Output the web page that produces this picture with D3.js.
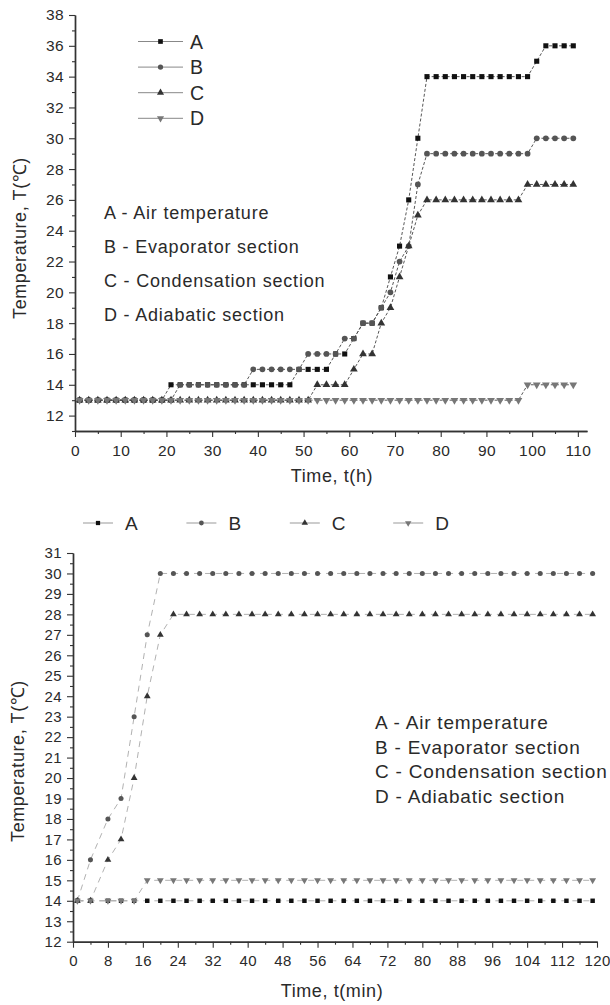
<!DOCTYPE html>
<html>
<head>
<meta charset="utf-8">
<script src="https://cdn.jsdelivr.net/npm/d3@7"></script>
<style>
  body { margin: 0; background: #fff; }
  text { font-family: "Liberation Sans", Arial, sans-serif; fill: #2a2a2a; }
  .axis path, .axis line { stroke: #333; }
  .axis path { stroke-width: 1.4; }
  .axis line { stroke-width: 1.1; }
</style>
</head>
<body>
<svg id="chart" width="610" height="1005"></svg>
<script>
// ---- top panel: hours ----
var hours = [1,3,5,7,9,11,13,15,17,19,21,23,25,27,29,31,33,35,37,39,41,43,45,47,49,51,53,55,
             57,59,61,63,65,67,69,71,73,75,77,79,81,83,85,87,89,91,93,95,97,99,101,103,105,107,109];
var airH  = [13,13,13,13,13,13,13,13,13,13,14,14,14,14,14,14,14,14,14,14,14,14,14,14,15,15,15,15,
             16,16,17,18,18,19,21,23,26,30,34,34,34,34,34,34,34,34,34,34,34,34,35,36,36,36,36];
var evapH = [13,13,13,13,13,13,13,13,13,13,13,14,14,14,14,14,14,14,14,15,15,15,15,15,15,16,16,16,
             16,17,17,18,18,19,20,22,23,27,29,29,29,29,29,29,29,29,29,29,29,29,30,30,30,30,30];
var condH = [13,13,13,13,13,13,13,13,13,13,13,13,13,13,13,13,13,13,13,13,13,13,13,13,13,13,14,14,
             14,14,15,16,16,18,19,21,23,25,26,26,26,26,26,26,26,26,26,26,26,27,27,27,27,27,27];
var adiaH = [13,13,13,13,13,13,13,13,13,13,13,13,13,13,13,13,13,13,13,13,13,13,13,13,13,13,13,13,
             13,13,13,13,13,13,13,13,13,13,13,13,13,13,13,13,13,13,13,13,13,14,14,14,14,14,14];
var topXTicks = [0,10,20,30,40,50,60,70,80,90,100,110];
var topYTicks = [12,14,16,18,20,22,24,26,28,30,32,34,36,38];

// ---- bottom panel: minutes ----
var minutes = [1,4,8,11,14,17,20,23,26,29,32,35,38,41,44,47,50,53,56,59,
               62,65,68,71,74,77,80,83,86,89,92,95,98,101,104,107,110,113,116,119];
var airM  = [14,14,14,14,14,14,14,14,14,14,14,14,14,14,14,14,14,14,14,14,
             14,14,14,14,14,14,14,14,14,14,14,14,14,14,14,14,14,14,14,14];
var evapM = [14,16,18,19,23,27,30,30,30,30,30,30,30,30,30,30,30,30,30,30,
             30,30,30,30,30,30,30,30,30,30,30,30,30,30,30,30,30,30,30,30];
var condM = [14,14,16,17,20,24,27,28,28,28,28,28,28,28,28,28,28,28,28,28,
             28,28,28,28,28,28,28,28,28,28,28,28,28,28,28,28,28,28,28,28];
var adiaM = [14,14,14,14,14,15,15,15,15,15,15,15,15,15,15,15,15,15,15,15,
             15,15,15,15,15,15,15,15,15,15,15,15,15,15,15,15,15,15,15,15];
var botXTicks = [0,8,16,24,32,40,48,56,64,72,80,88,96,104,112,120];
var botYTicks = [12,13,14,15,16,17,18,19,20,21,22,23,24,25,26,27,28,29,30,31];

var seriesNames = ['A', 'B', 'C', 'D'];
var notes = ['A - Air temperature', 'B - Evaporator section',
             'C - Condensation section', 'D - Adiabatic section'];
var yTitle = 'Temperature, T(\u2103)';

var markers = {
  A: { type: d3.symbolSquare,   fill: '#111', rot: 0 },
  B: { type: d3.symbolCircle,   fill: '#555', rot: 0 },
  C: { type: d3.symbolTriangle, fill: '#333', rot: 0 },
  D: { type: d3.symbolTriangle, fill: '#777', rot: 180 }
};

var svg = d3.select('#chart');

function drawPanel(p) {
  var x = d3.scaleLinear().domain(p.xDomain).range(p.xRange);
  var y = d3.scaleLinear().domain(p.yDomain).range(p.yRange);
  var g = svg.append('g');
  var y0 = p.yRange[0], x0 = p.xRange[0];

  // minor ticks
  g.append('g').attr('class', 'axis').attr('transform', 'translate(0,' + y0 + ')')
    .call(d3.axisBottom(x).tickValues(p.xMinor).tickSize(3).tickSizeOuter(0).tickFormat(''));
  g.append('g').attr('class', 'axis').attr('transform', 'translate(' + x0 + ',0)')
    .call(d3.axisLeft(y).tickValues(p.yMinor).tickSize(3).tickSizeOuter(0).tickFormat(''));

  // major ticks
  var xa = g.append('g').attr('class', 'axis').attr('transform', 'translate(0,' + y0 + ')')
    .call(d3.axisBottom(x).tickValues(p.xTicks).tickSize(6).tickSizeOuter(0).tickPadding(p.xPad));
  var ya = g.append('g').attr('class', 'axis').attr('transform', 'translate(' + x0 + ',0)')
    .call(d3.axisLeft(y).tickValues(p.yTicks).tickSize(6).tickSizeOuter(0).tickPadding(5));
  xa.selectAll('text').style('font-size', p.tickFont + 'px').style('letter-spacing', '0.4px')
    .attr('fill', '#2a2a2a').attr('font-family', null);
  ya.selectAll('text').style('font-size', p.tickFont + 'px').style('letter-spacing', '0.4px')
    .attr('fill', '#2a2a2a').attr('font-family', null);

  // series lines
  var line = d3.line().x(function(d) { return x(d[0]); }).y(function(d) { return y(d[1]); });
  p.series.forEach(function(s) {
    var pts = p.times.map(function(t, i) { return [t, s.values[i]]; });
    g.append('path').datum(pts).attr('d', line)
      .attr('fill', 'none').attr('stroke', p.lineColor)
      .attr('stroke-width', p.lineWidth).attr('stroke-dasharray', p.dash);
  });
  // series markers
  p.series.forEach(function(s) {
    var m = markers[s.name];
    var sym = d3.symbol().type(m.type).size(p.markerSize);
    g.selectAll('.m' + s.name)
      .data(p.times.map(function(t, i) { return [t, s.values[i]]; }))
      .enter().append('path')
      .attr('d', sym)
      .attr('fill', m.fill)
      .attr('transform', function(d) {
        return 'translate(' + x(d[0]) + ',' + y(d[1]) + ') rotate(' + m.rot + ')';
      });
  });

  // axis titles
  g.append('text').attr('x', p.xTitlePos[0]).attr('y', p.xTitlePos[1])
    .attr('text-anchor', 'middle').style('font-size', '18px').style('letter-spacing', '0.6px')
    .text(p.xTitle);
  g.append('text')
    .attr('transform', 'translate(' + p.yTitlePos[0] + ',' + p.yTitlePos[1] + ') rotate(-90)')
    .attr('text-anchor', 'middle').style('font-size', '18px').style('letter-spacing', '0.6px')
    .text(yTitle);

  // annotations
  g.selectAll('.note').data(notes).enter().append('text')
    .attr('x', p.notePos[0])
    .attr('y', function(d, i) { return p.notePos[1] + i * p.noteGap; })
    .style('font-size', p.noteFont + 'px').style('letter-spacing', '0.8px')
    .text(function(d) { return d; });

  return g;
}

// Top panel
var top = drawPanel({
  xDomain: [0, 112], xRange: [75, 587],
  yDomain: [11, 38], yRange: [431, 15],
  xTicks: topXTicks, xMinor: [5,15,25,35,45,55,65,75,85,95,105],
  yTicks: topYTicks, yMinor: [11,13,15,17,19,21,23,25,27,29,31,33,35,37],
  xPad: 8, tickFont: 15.5,
  times: hours,
  series: [{ name: 'A', values: airH }, { name: 'B', values: evapH },
           { name: 'C', values: condH }, { name: 'D', values: adiaH }],
  lineColor: '#444', lineWidth: 0.9, dash: '3,2', markerSize: 26,
  xTitle: 'Time, t(h)', xTitlePos: [332, 482],
  yTitlePos: [26, 238],
  notePos: [104, 219], noteGap: 34, noteFont: 18
});

// top legend (vertical)
var legTop = svg.append('g');
seriesNames.forEach(function(n, i) {
  var cy = 41.5 + i * 25.6;
  var m = markers[n];
  legTop.append('line').attr('x1', 138).attr('x2', 183).attr('y1', cy).attr('y2', cy)
    .attr('stroke', '#888').attr('stroke-width', 1);
  legTop.append('path').attr('d', d3.symbol().type(m.type).size(22))
    .attr('fill', m.fill).attr('transform', 'translate(160.5,' + cy + ') rotate(' + m.rot + ')');
  legTop.append('text').attr('x', 190).attr('y', cy + 7).style('font-size', '19.5px').text(n);
});

// Bottom panel
var bottom = drawPanel({
  xDomain: [0, 120], xRange: [73, 597],
  yDomain: [12, 31], yRange: [941.7, 553],
  xTicks: botXTicks, xMinor: [4,12,20,28,36,44,52,60,68,76,84,92,100,108,116],
  yTicks: botYTicks,
  yMinor: [12.5,13.5,14.5,15.5,16.5,17.5,18.5,19.5,20.5,21.5,22.5,23.5,24.5,25.5,26.5,27.5,28.5,29.5,30.5],
  xPad: 8, tickFont: 15,
  times: minutes,
  series: [{ name: 'A', values: airM }, { name: 'B', values: evapM },
           { name: 'C', values: condM }, { name: 'D', values: adiaM }],
  lineColor: '#a8a8a8', lineWidth: 0.9, dash: '6,5', markerSize: 20,
  xTitle: 'Time, t(min)', xTitlePos: [332, 997],
  yTitlePos: [24, 761],
  notePos: [375, 729], noteGap: 24.7, noteFont: 19
});

// bottom legend (horizontal)
var legBot = svg.append('g');
seriesNames.forEach(function(n, i) {
  var cx = 98 + i * 103.4, cy = 523;
  var m = markers[n];
  legBot.append('line').attr('x1', cx - 15).attr('x2', cx + 15).attr('y1', cy).attr('y2', cy)
    .attr('stroke', '#999').attr('stroke-width', 1);
  legBot.append('path').attr('d', d3.symbol().type(m.type).size(18))
    .attr('fill', m.fill).attr('transform', 'translate(' + cx + ',' + cy + ') rotate(' + m.rot + ')');
  legBot.append('text').attr('x', cx + 27).attr('y', cy + 7).style('font-size', '19px').text(n);
});
</script>
</body>
</html>
